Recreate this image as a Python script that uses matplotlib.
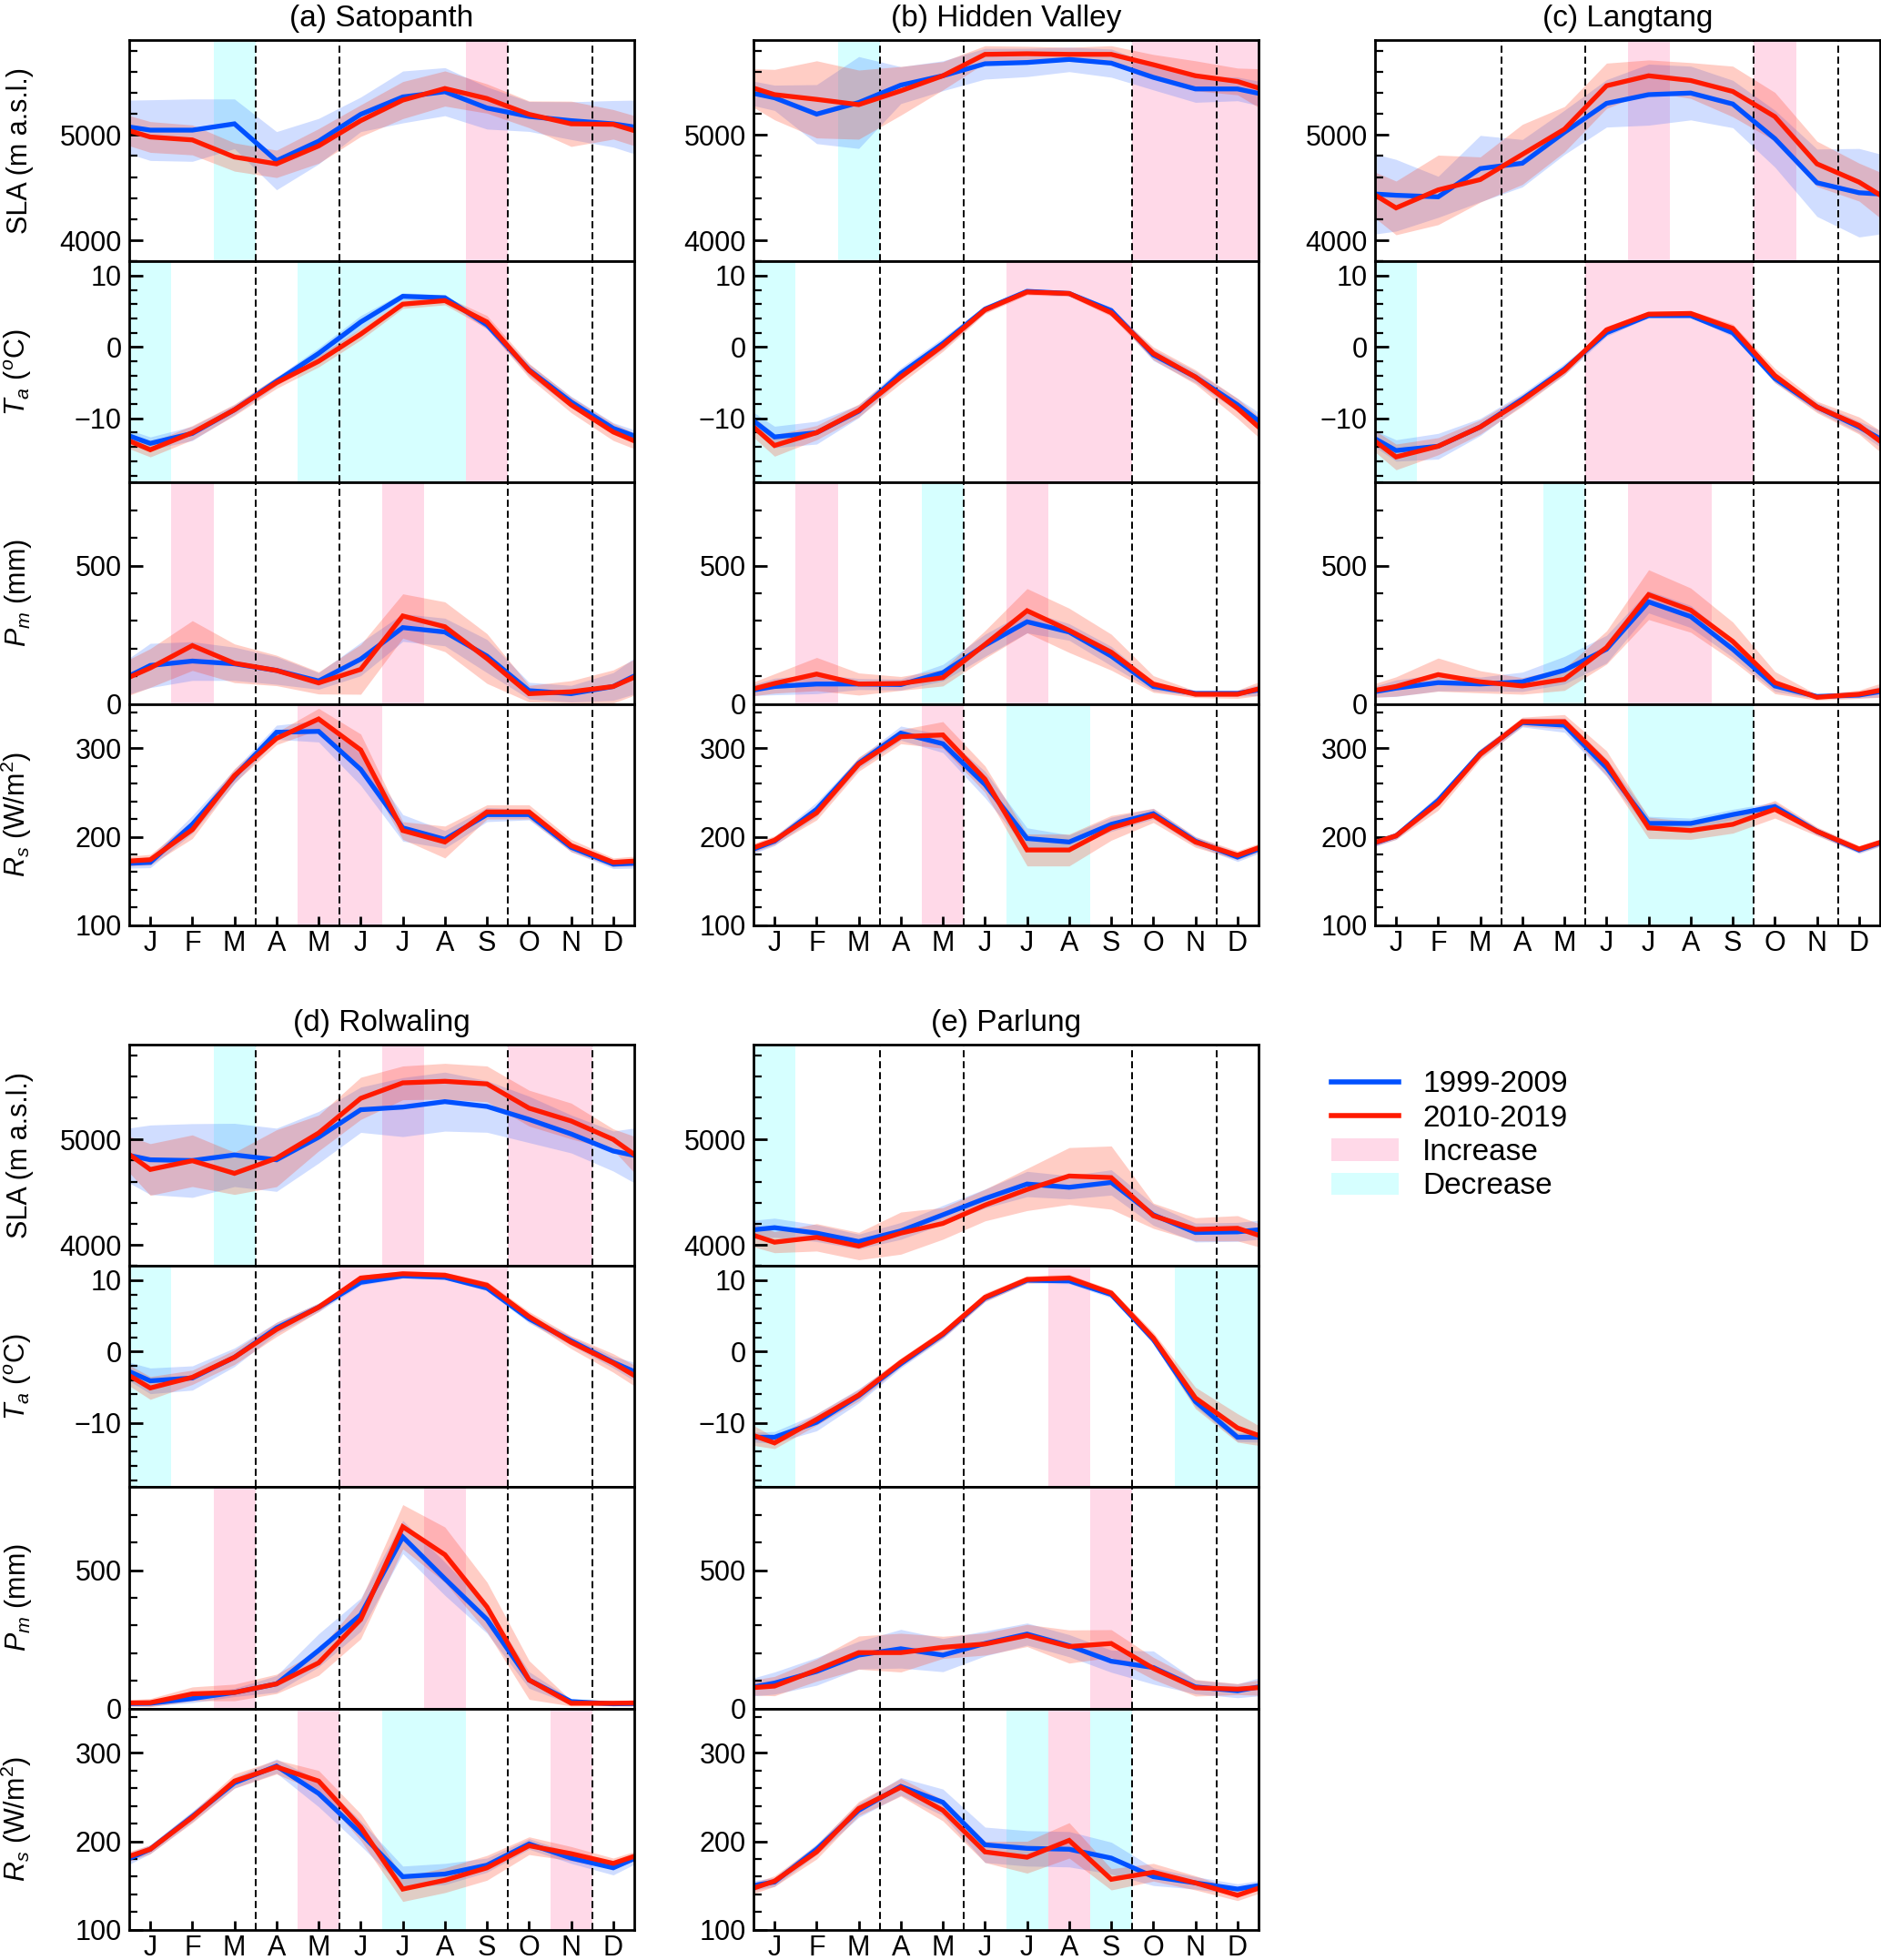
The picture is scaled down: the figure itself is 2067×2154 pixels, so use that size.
import numpy as np
import matplotlib
matplotlib.use("Agg")
import matplotlib.pyplot as plt
from matplotlib.ticker import MultipleLocator
from matplotlib.lines import Line2D
from matplotlib.patches import Patch

plt.rcParams['font.family'] = ['Liberation Sans', 'DejaVu Sans']
plt.rcParams['mathtext.fontset'] = 'custom'
plt.rcParams['mathtext.rm'] = 'Liberation Sans'
plt.rcParams['mathtext.it'] = 'Liberation Sans:italic'
plt.rcParams['mathtext.bf'] = 'Liberation Sans:bold'

# ---------------- data ----------------
months = list(range(1, 13))
month_labels = ['J', 'F', 'M', 'A', 'M', 'J', 'J', 'A', 'S', 'O', 'N', 'D']
season_bounds = [3.5, 5.5, 9.5, 11.5]
period_labels = ['1999-2009', '2010-2019']
shade_labels = ['Increase', 'Decrease']
glaciers = ['(a) Satopanth', '(b) Hidden Valley', '(c) Langtang', '(d) Rolwaling', '(e) Parlung']
var_labels = ['SLA (m a.s.l.)', '$T_a$ ($^o$C)', '$P_m$ (mm)', '$R_s$ (W/m$^2$)']

# (a) Satopanth
sat_sla_1 = [5045, 5045, 5105, 4755, 4940, 5195, 5360, 5410, 5255, 5175, 5135, 5105]
sat_sla_2 = [4980, 4952, 4790, 4725, 4895, 5135, 5330, 5440, 5345, 5195, 5105, 5100]
sat_sla_sd1 = [288, 296, 236, 276, 216, 164, 246, 228, 200, 142, 179, 221]
sat_sla_sd2 = [146, 142, 134, 130, 164, 150, 176, 167, 139, 127, 215, 140]
sat_ta_1 = [-13.5, -12.1, -8.8, -4.8, -0.9, 3.5, 7.1, 6.9, 3.1, -3.2, -7.7, -11.4]
sat_ta_2 = [-14.4, -12.0, -8.8, -5.0, -2.0, 1.8, 6.0, 6.5, 3.5, -3.3, -8.1, -11.9]
sat_ta_sd1 = [0.9, 1.0, 0.7, 0.6, 0.8, 0.9, 0.5, 0.4, 0.6, 0.8, 0.8, 0.8]
sat_ta_sd2 = [1.0, 1.0, 0.8, 0.8, 0.8, 0.8, 0.6, 0.6, 0.9, 1.0, 1.1, 1.2]
sat_pm_1 = [139, 155, 145, 121, 83, 162, 276, 260, 173, 48, 37, 63]
sat_pm_2 = [130, 211, 147, 121, 76, 125, 318, 279, 164, 37, 44, 63]
sat_pm_sd1 = [80, 70, 60, 50, 30, 60, 50, 50, 60, 30, 30, 50]
sat_pm_sd2 = [70, 90, 70, 55, 40, 90, 80, 90, 90, 30, 40, 60]
sat_rs_1 = [171, 214, 268, 318, 319, 276, 210, 197, 225, 225, 188, 169]
sat_rs_2 = [174, 208, 269, 311, 333, 298, 207, 194, 228, 228, 190, 171]
sat_rs_sd1 = [6, 10, 8, 8, 12, 18, 15, 10, 8, 6, 5, 5]
sat_rs_sd2 = [6, 10, 8, 7, 12, 18, 10, 18, 8, 8, 7, 5]

# (b) Hidden Valley
hv_sla_1 = [5352, 5197, 5307, 5472, 5561, 5675, 5687, 5716, 5681, 5546, 5436, 5436]
hv_sla_2 = [5382, 5337, 5287, 5418, 5561, 5764, 5770, 5764, 5764, 5666, 5561, 5507]
hv_sla_sd1 = [120, 280, 436, 175, 142, 146, 134, 116, 134, 119, 127, 112]
hv_sla_sd2 = [239, 366, 328, 231, 134, 82, 70, 67, 82, 97, 142, 127]
hv_ta_1 = [-12.6, -12.0, -9.0, -3.7, 0.5, 5.3, 7.8, 7.5, 5.1, -1.1, -4.2, -8.1]
hv_ta_2 = [-13.8, -12.0, -8.9, -4.2, 0.2, 5.2, 7.7, 7.5, 4.8, -0.9, -4.2, -8.6]
hv_ta_sd1 = [1.5, 1.6, 0.9, 0.8, 0.8, 0.5, 0.3, 0.3, 0.5, 0.8, 0.8, 0.9]
hv_ta_sd2 = [1.5, 1.0, 0.9, 0.9, 0.8, 0.5, 0.4, 0.4, 0.5, 0.9, 1.0, 1.4]
hv_pm_1 = [63, 72, 72, 70, 113, 212, 297, 260, 173, 63, 38, 38]
hv_pm_2 = [74, 108, 72, 74, 95, 215, 337, 266, 187, 72, 35, 35]
hv_pm_sd1 = [30, 35, 20, 20, 30, 40, 40, 30, 35, 15, 10, 10]
hv_pm_sd2 = [35, 60, 40, 25, 30, 50, 80, 80, 65, 30, 12, 15]
hv_rs_1 = [195, 231, 283, 317, 305, 259, 198, 194, 214, 226, 195, 177]
hv_rs_2 = [196, 227, 282, 313, 315, 265, 185, 185, 210, 224, 194, 179]
hv_rs_sd1 = [5, 8, 6, 8, 10, 15, 12, 8, 8, 6, 5, 5]
hv_rs_sd2 = [5, 8, 8, 8, 15, 15, 18, 18, 14, 8, 6, 5]

# (c) Langtang
lt_sla_1 = [4427, 4412, 4680, 4731, 5024, 5299, 5382, 5397, 5293, 4964, 4546, 4451]
lt_sla_2 = [4307, 4478, 4576, 4815, 5054, 5466, 5561, 5516, 5412, 5173, 4725, 4552]
lt_sla_sd1 = [340, 195, 315, 225, 210, 225, 290, 255, 225, 270, 320, 420]
lt_sla_sd2 = [255, 330, 215, 285, 215, 215, 150, 170, 240, 230, 215, 180]
lt_ta_1 = [-14.5, -13.9, -11.2, -7.3, -3.1, 2.0, 4.4, 4.4, 2.0, -4.4, -8.4, -11.2]
lt_ta_2 = [-15.4, -13.9, -11.2, -7.5, -3.3, 2.4, 4.6, 4.7, 2.6, -4.0, -8.4, -11.0]
lt_ta_sd1 = [1.5, 1.8, 1.2, 0.8, 0.8, 0.5, 0.3, 0.3, 0.5, 0.6, 0.6, 0.8]
lt_ta_sd2 = [1.8, 1.2, 1.0, 0.8, 0.6, 0.5, 0.4, 0.4, 0.6, 1.0, 0.8, 1.2]
lt_pm_1 = [57, 77, 72, 80, 122, 198, 369, 316, 198, 65, 27, 32]
lt_pm_2 = [63, 106, 80, 65, 89, 204, 395, 339, 226, 77, 24, 35]
lt_pm_sd1 = [30, 30, 25, 35, 50, 50, 40, 40, 30, 20, 8, 10]
lt_pm_sd2 = [35, 60, 40, 30, 40, 60, 90, 80, 70, 40, 10, 15]
lt_rs_1 = [201, 241, 294, 329, 326, 278, 215, 215, 225, 234, 206, 185]
lt_rs_2 = [201, 238, 293, 330, 330, 283, 210, 207, 214, 231, 206, 186]
lt_rs_sd1 = [4, 6, 5, 5, 8, 10, 8, 6, 6, 5, 4, 4]
lt_rs_sd2 = [4, 8, 6, 5, 8, 14, 12, 10, 10, 10, 5, 4]

# (d) Rolwaling
rw_sla_1 = [4807, 4800, 4853, 4807, 5021, 5282, 5307, 5359, 5313, 5190, 5052, 4890]
rw_sla_2 = [4715, 4798, 4678, 4822, 5061, 5390, 5537, 5552, 5527, 5297, 5175, 5000]
rw_sla_sd1 = [330, 350, 300, 300, 245, 215, 280, 280, 245, 220, 180, 190]
rw_sla_sd2 = [245, 245, 200, 270, 170, 200, 160, 170, 170, 170, 170, 100]
rw_ta_1 = [-4.1, -3.7, -0.8, 3.3, 6.2, 9.7, 10.6, 10.4, 8.9, 4.6, 1.5, -1.5]
rw_ta_2 = [-5.1, -3.6, -0.8, 3.1, 6.2, 10.3, 10.9, 10.7, 9.3, 4.9, 1.3, -1.6]
rw_ta_sd1 = [1.8, 1.7, 1.3, 0.8, 0.6, 0.4, 0.3, 0.3, 0.4, 0.6, 0.6, 0.8]
rw_ta_sd2 = [1.6, 1.0, 1.0, 1.0, 0.6, 0.4, 0.4, 0.4, 0.5, 0.7, 0.9, 1.3]
rw_pm_1 = [19, 36, 58, 89, 210, 339, 620, 469, 322, 103, 25, 17]
rw_pm_2 = [21, 53, 58, 89, 165, 322, 657, 556, 367, 103, 19, 19]
rw_pm_sd1 = [10, 15, 15, 30, 60, 60, 60, 60, 50, 30, 10, 8]
rw_pm_sd2 = [15, 25, 30, 35, 45, 70, 80, 100, 90, 70, 10, 8]
rw_rs_1 = [191, 228, 266, 285, 254, 209, 160, 163, 173, 197, 181, 170]
rw_rs_2 = [191, 227, 268, 284, 268, 216, 146, 156, 170, 195, 186, 175]
rw_rs_sd1 = [5, 6, 6, 8, 15, 14, 12, 12, 8, 6, 6, 8]
rw_rs_sd2 = [5, 6, 8, 8, 12, 15, 14, 14, 14, 10, 8, 6]

# (e) Parlung
pl_sla_1 = [4163, 4111, 4031, 4132, 4285, 4439, 4577, 4546, 4592, 4285, 4117, 4123]
pl_sla_2 = [4025, 4071, 3988, 4111, 4203, 4377, 4525, 4653, 4638, 4276, 4147, 4157]
pl_sla_sd1 = [90, 80, 70, 80, 90, 90, 120, 110, 120, 100, 90, 90]
pl_sla_sd2 = [100, 130, 130, 200, 150, 150, 200, 270, 300, 120, 110, 120]
pl_ta_1 = [-12.0, -9.9, -6.2, -1.7, 2.4, 7.5, 10.0, 9.9, 8.0, 1.7, -7.0, -12.0]
pl_ta_2 = [-12.8, -9.5, -6.1, -1.5, 2.5, 7.6, 10.1, 10.3, 8.2, 1.9, -6.5, -10.7]
pl_ta_sd1 = [0.8, 1.2, 1.0, 0.6, 0.6, 0.5, 0.4, 0.4, 0.5, 0.6, 0.7, 0.6]
pl_ta_sd2 = [0.8, 0.8, 0.8, 0.6, 0.6, 0.6, 0.5, 0.5, 0.5, 0.8, 1.5, 2.0]
pl_pm_1 = [92, 134, 193, 216, 193, 235, 269, 227, 171, 148, 78, 64]
pl_pm_2 = [81, 139, 202, 202, 221, 233, 264, 224, 235, 145, 75, 70]
pl_pm_sd1 = [40, 50, 50, 70, 60, 45, 40, 40, 40, 60, 25, 25]
pl_pm_sd2 = [35, 40, 60, 70, 40, 40, 40, 60, 50, 40, 30, 20]
pl_rs_1 = [154, 191, 235, 262, 244, 196, 192, 191, 181, 160, 153, 146]
pl_rs_2 = [155, 188, 237, 261, 235, 188, 182, 201, 157, 165, 153, 139]
pl_rs_sd1 = [5, 6, 8, 10, 15, 20, 20, 20, 18, 10, 7, 6]
pl_rs_sd2 = [6, 8, 8, 10, 12, 12, 18, 20, 12, 10, 8, 6]

# months with significant increase / decrease  (order: SLA, Ta, Pm, Rs)
sat_inc = [[9], [9], [2, 7], [5, 6]]
sat_dec = [[3], [1, 5, 6, 7, 8], [], []]
hv_inc = [[10, 11, 12], [7, 8, 9], [2, 7], [5]]
hv_dec = [[3], [1], [5], [7, 8]]
lt_inc = [[7, 10], [6, 7, 8, 9], [7, 8], []]
lt_dec = [[], [1], [5], [7, 8, 9]]
rw_inc = [[7, 10, 11], [6, 7, 8, 9], [3, 8], [5, 11]]
rw_dec = [[3], [1], [], [7, 8]]
pl_inc = [[], [8], [9], [8]]
pl_dec = [[1], [1, 11, 12], [], [7, 9]]

# ---------------- style ----------------
C_BLUE = '#0050FF'
C_RED = '#FF1A00'
C_BAND_BLUE = '#2A66FF'
C_BAND_RED = '#FF3A1A'
C_INC = '#FFD9E8'
C_DEC = '#D6FFFF'

ylims = [(3800, 5900), (-19, 12), (0, 800), (100, 350)]
major_steps = [1000, 10, 500, 100]
minor_steps = [200, 2, 100, 20]

W, H = 2067, 2154
fig = plt.figure(figsize=(W / 200, H / 200), dpi=200)


def cyc(v):
    v = np.asarray(v, dtype=float)
    return np.concatenate([[v[-1]], v, [v[0]]])


xe = np.arange(0, 14)


def draw_group(left_px, top_px, title, series, incs, decs, show_ylabel):
    h_px = 243.2
    w_px = 555
    axes = []
    for i in range(4):
        y0 = top_px + i * h_px
        ax = fig.add_axes([left_px / W, 1 - (y0 + h_px) / H, w_px / W, h_px / H])
        m1, m2, s1, s2 = series[i]
        for m in incs[i]:
            ax.axvspan(m - 0.5, m + 0.5, color=C_INC, lw=0, zorder=0)
        for m in decs[i]:
            ax.axvspan(m - 0.5, m + 0.5, color=C_DEC, lw=0, zorder=0)
        a1, b1 = cyc(m1), cyc(s1)
        a2, b2 = cyc(m2), cyc(s2)
        ax.fill_between(xe, a1 - b1, a1 + b1, color=C_BAND_BLUE, alpha=0.22, lw=0, zorder=1)
        ax.fill_between(xe, a2 - b2, a2 + b2, color=C_BAND_RED, alpha=0.25, lw=0, zorder=1.1)
        for xb in season_bounds:
            ax.axvline(xb, color='black', lw=0.7, ls=(0, (4, 2.2)), zorder=2)
        ax.plot(xe, a1, color=C_BLUE, lw=1.9, zorder=3, solid_joinstyle='miter')
        ax.plot(xe, a2, color=C_RED, lw=1.9, zorder=3.1, solid_joinstyle='miter')
        ax.set_xlim(0.5, 12.5)
        ax.set_ylim(*ylims[i])
        ax.yaxis.set_major_locator(MultipleLocator(major_steps[i]))
        ax.yaxis.set_minor_locator(MultipleLocator(minor_steps[i]))
        ax.tick_params(axis='y', which='major', direction='in', length=5.5, width=1.0,
                       labelsize=11, pad=3)
        ax.tick_params(axis='y', which='minor', direction='in', length=3.2, width=0.8)
        ax.set_xticks(months)
        if i == 3:
            ax.set_xticklabels(month_labels)
            ax.tick_params(axis='x', direction='in', length=3.5, width=1.0, labelsize=11, pad=2)
        else:
            ax.tick_params(axis='x', length=0, labelbottom=False)
        for sp in ax.spines.values():
            sp.set_linewidth(1.0)
            sp.set_zorder(5)
        if show_ylabel:
            ax.set_ylabel(var_labels[i], fontsize=11)
            ax.yaxis.set_label_coords(-0.19, 0.5)
        if i == 0:
            ax.set_title(title, fontsize=12, pad=5.5)
        axes.append(ax)
    return axes


draw_group(142, 44, glaciers[0],
           [(sat_sla_1, sat_sla_2, sat_sla_sd1, sat_sla_sd2),
            (sat_ta_1, sat_ta_2, sat_ta_sd1, sat_ta_sd2),
            (sat_pm_1, sat_pm_2, sat_pm_sd1, sat_pm_sd2),
            (sat_rs_1, sat_rs_2, sat_rs_sd1, sat_rs_sd2)],
           sat_inc, sat_dec, True)
draw_group(828, 44, glaciers[1],
           [(hv_sla_1, hv_sla_2, hv_sla_sd1, hv_sla_sd2),
            (hv_ta_1, hv_ta_2, hv_ta_sd1, hv_ta_sd2),
            (hv_pm_1, hv_pm_2, hv_pm_sd1, hv_pm_sd2),
            (hv_rs_1, hv_rs_2, hv_rs_sd1, hv_rs_sd2)],
           hv_inc, hv_dec, False)
draw_group(1511, 44, glaciers[2],
           [(lt_sla_1, lt_sla_2, lt_sla_sd1, lt_sla_sd2),
            (lt_ta_1, lt_ta_2, lt_ta_sd1, lt_ta_sd2),
            (lt_pm_1, lt_pm_2, lt_pm_sd1, lt_pm_sd2),
            (lt_rs_1, lt_rs_2, lt_rs_sd1, lt_rs_sd2)],
           lt_inc, lt_dec, False)
draw_group(142, 1148, glaciers[3],
           [(rw_sla_1, rw_sla_2, rw_sla_sd1, rw_sla_sd2),
            (rw_ta_1, rw_ta_2, rw_ta_sd1, rw_ta_sd2),
            (rw_pm_1, rw_pm_2, rw_pm_sd1, rw_pm_sd2),
            (rw_rs_1, rw_rs_2, rw_rs_sd1, rw_rs_sd2)],
           rw_inc, rw_dec, True)
draw_group(828, 1148, glaciers[4],
           [(pl_sla_1, pl_sla_2, pl_sla_sd1, pl_sla_sd2),
            (pl_ta_1, pl_ta_2, pl_ta_sd1, pl_ta_sd2),
            (pl_pm_1, pl_pm_2, pl_pm_sd1, pl_pm_sd2),
            (pl_rs_1, pl_rs_2, pl_rs_sd1, pl_rs_sd2)],
           pl_inc, pl_dec, False)

handles = [Line2D([], [], color=C_BLUE, lw=2.0),
           Line2D([], [], color=C_RED, lw=2.0),
           Patch(facecolor=C_INC, edgecolor='none'),
           Patch(facecolor=C_DEC, edgecolor='none')]
fig.legend(handles, period_labels + shade_labels, loc='center left',
           bbox_to_anchor=(1440 / W, 1 - 1248 / H), frameon=False, fontsize=12,
           handlelength=2.2, handleheight=0.75, handletextpad=0.8, labelspacing=0.19,
           borderpad=0.2)

fig.savefig('out.png', dpi=200)
